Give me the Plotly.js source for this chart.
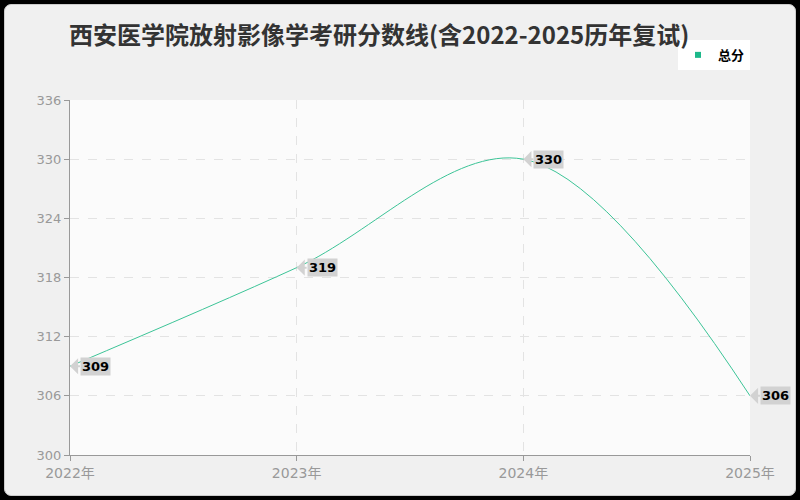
<!DOCTYPE html>
<html>
<head>
<meta charset="utf-8">
<script src="https://cdn.plot.ly/plotly-3.0.1.min.js"></script>
<style>
  html, body { margin: 0; padding: 0; background: #000; }
  #frame { position: absolute; left: 4px; top: 4px; width: 790px; height: 490px;
           background: #f0f0f0; border: 1px solid #ccc; border-radius: 7px; }
  #chart { position: absolute; left: 0; top: 0; width: 800px; height: 500px; }
</style>
</head>
<body>
<div id="frame"></div>
<div id="chart"></div>
<script>
var years = [2022, 2023, 2024, 2025];
var yearLabels = ["2022年", "2023年", "2024年", "2025年"];
var scores = [309, 319, 330, 306];
var seriesName = "总分";
var lineColor = "#3cc497";
var tagColor = "#d2d2d2";

var trace = {
  x: years,
  y: scores,
  name: seriesName,
  type: 'scatter',
  mode: 'lines',
  line: { shape: 'spline', smoothing: 1, color: lineColor, width: 1 },
  showlegend: false,
  hoverinfo: 'x+y'
};

// legend entry only: small square in the series colour
var legendEntry = {
  x: [null], y: [null],
  name: '<b>' + seriesName + '</b>',
  type: 'scatter',
  mode: 'markers',
  marker: { symbol: 'square', size: 6, color: '#1db88a' },
  showlegend: true
};

var annotations = years.map(function (yr, i) {
  return {
    x: yr, y: scores[i], xref: 'x', yref: 'y',
    text: '<b>' + scores[i] + '</b>',
    font: { family: 'DejaVu Sans', size: 13, color: '#000' },
    bgcolor: tagColor,
    borderpad: 1,
    xanchor: 'left',
    showarrow: true, ax: 10, ay: 0,
    arrowhead: 1, arrowwidth: 2, arrowsize: 1.35,
    arrowcolor: tagColor, standoff: 0
  };
});

var layout = {
  width: 800, height: 500,
  paper_bgcolor: 'rgba(0,0,0,0)',
  plot_bgcolor: '#fbfbfb',
  font: { family: '"Noto Sans CJK SC", "Noto Sans", sans-serif' },
  margin: { l: 70, r: 50, t: 100, b: 45 },
  title: {
    text: '<b>西安医学院放射影像学考研分数线(含2022-2025历年复试)</b>',
    font: { size: 24, color: '#333' },
    x: 0.474, xanchor: 'center', y: 0.928, yanchor: 'middle'
  },
  showlegend: true,
  legend: {
    x: 1.0, y: 1.127, xanchor: 'right', yanchor: 'middle',
    bgcolor: '#fff', borderwidth: 0,
    font: { size: 13, color: '#000' },
    itemwidth: 30
  },
  xaxis: {
    range: [2022, 2025],
    tickvals: years, ticktext: yearLabels,
    showgrid: true, gridcolor: '#e3e3e3', griddash: 'dash',
    showline: true, linecolor: '#999', linewidth: 1,
    ticks: 'outside', ticklen: 5, tickcolor: '#999',
    tickfont: { family: '"DejaVu Sans", "Noto Sans CJK SC"', size: 14, color: '#999' },
    zeroline: false, fixedrange: true
  },
  yaxis: {
    range: [300, 336], dtick: 6, tick0: 300,
    showgrid: true, gridcolor: '#e3e3e3', griddash: 'dash',
    showline: true, linecolor: '#999', linewidth: 1,
    ticks: 'outside', ticklen: 5, tickcolor: '#999',
    tickfont: { family: '"DejaVu Sans"', size: 13, color: '#999' },
    zeroline: false, fixedrange: true
  },
  annotations: annotations
};

Plotly.newPlot('chart', [trace, legendEntry], layout, { displayModeBar: false, staticPlot: true });
</script>
</body>
</html>
